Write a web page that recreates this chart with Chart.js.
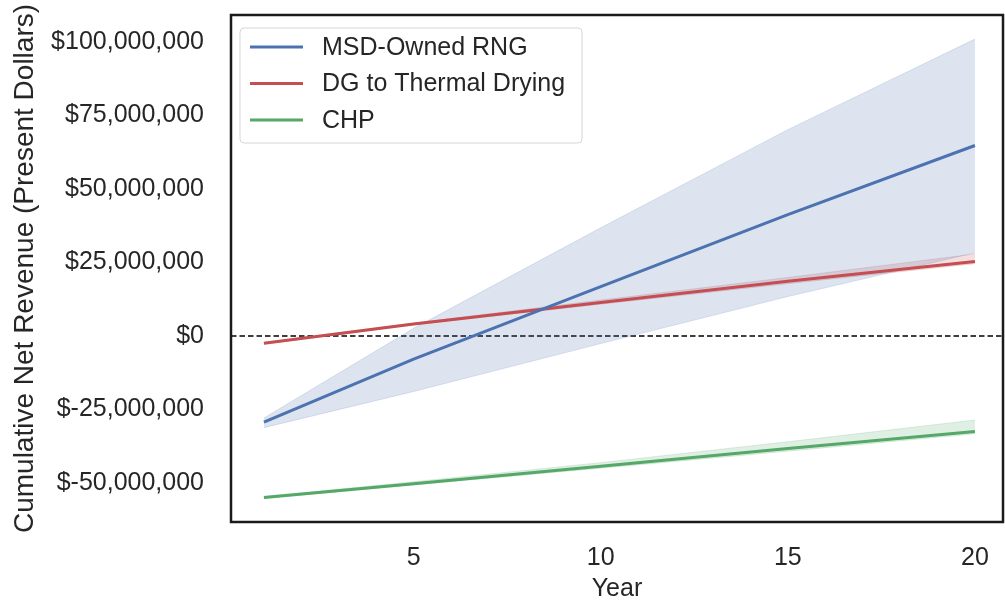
<!DOCTYPE html>
<html>
<head>
<meta charset="utf-8">
<script src="https://cdn.jsdelivr.net/npm/chart.js@4.4.1/dist/chart.umd.min.js"></script>
<style>
    html, body { margin: 0; padding: 0; background: #ffffff; }
    #wrap { width: 1005px; height: 601px; }
</style>
</head>
<body>
<div id="wrap"><canvas id="revenueChart" width="1005" height="601"></canvas></div>
<script>
// Chart values (dollars, present value)
const years = [1, 5, 10, 15, 20];

const rngLine = [-29.3e6, -7.9e6, 16.8e6, 41.3e6, 64.8e6];
const rngLow  = [-31.2e6, -18.9e6, -2.6e6, 13.4e6, 28.3e6];
const rngHigh = [-27.9e6, 2.6e6, 36.8e6, 70.2e6, 101.0e6];

const dgLine = [-2.5e6, 4.1e6, 11.4e6, 18.6e6, 25.3e6];
const dgLow  = [-2.8e6, 3.8e6, 10.8e6, 17.8e6, 24.6e6];
const dgHigh = [-2.2e6, 4.4e6, 12.2e6, 19.9e6, 27.9e6];

const chpLine = [-55.0e6, -50.3e6, -44.3e6, -38.3e6, -32.5e6];
const chpLow  = [-55.3e6, -50.7e6, -45.0e6, -39.2e6, -33.3e6];
const chpHigh = [-54.6e6, -49.6e6, -43.1e6, -36.0e6, -28.6e6];

const seriesNames = ['MSD-Owned RNG', 'DG to Thermal Drying', 'CHP'];
const seriesColors = ['#4C72B0', '#C44E52', '#55A868'];

const xTicks = [5, 10, 15, 20];
const yTicks = [-50e6, -25e6, 0, 25e6, 50e6, 75e6, 100e6];

const FONT = "'Liberation Sans', Arial, sans-serif";
const TEXT = '#262626';

// Turn parallel arrays into {x, y} points
function toPoints(values) {
    return years.map((yr, i) => ({ x: yr, y: values[i] }));
}

// Hex colour to rgba string
function rgba(hex, a) {
    const n = parseInt(hex.slice(1), 16);
    return `rgba(${(n >> 16) & 255}, ${(n >> 8) & 255}, ${n & 255}, ${a})`;
}

function lineSet(label, values, color) {
    return {
        label: label,
        data: toPoints(values),
        borderColor: color,
        borderWidth: 3,
        pointRadius: 0,
        fill: false,
        tension: 0,
        order: 0
    };
}

// Two datasets: the lower edge, then the upper edge filled down to it
function bandSets(low, high, color) {
    const edge = {
        data: toPoints(low),
        borderColor: rgba(color, 0.18),
        borderWidth: 1,
        pointRadius: 0,
        fill: false,
        tension: 0,
        order: 1
    };
    const top = Object.assign({}, edge, {
        data: toPoints(high),
        fill: '-1',
        backgroundColor: rgba(color, 0.19)
    });
    return [edge, top];
}

// Frame, dashed zero line and the boxed legend
const decorPlugin = {
    id: 'decor',
    beforeDatasetsDraw(chart) {
        const { ctx, chartArea: a, scales } = chart;
        const y0 = scales.y.getPixelForValue(0);
        ctx.save();
        ctx.strokeStyle = '#000000';
        ctx.lineWidth = 1.4;
        ctx.setLineDash([5.5, 3]);
        ctx.beginPath();
        ctx.moveTo(a.left, y0);
        ctx.lineTo(a.right, y0);
        ctx.stroke();
        ctx.restore();
    },
    afterDraw(chart) {
        const { ctx, chartArea: a } = chart;
        ctx.save();

        // legend box
        const bx = 240, by = 28, bw = 342, bh = 115, r = 4;
        ctx.beginPath();
        ctx.moveTo(bx + r, by);
        ctx.arcTo(bx + bw, by, bx + bw, by + bh, r);
        ctx.arcTo(bx + bw, by + bh, bx, by + bh, r);
        ctx.arcTo(bx, by + bh, bx, by, r);
        ctx.arcTo(bx, by, bx + bw, by, r);
        ctx.closePath();
        ctx.fillStyle = 'rgba(255,255,255,0.8)';
        ctx.fill();
        ctx.strokeStyle = '#d6d6d6';
        ctx.lineWidth = 1;
        ctx.stroke();

        ctx.font = `25px ${FONT}`;
        ctx.textBaseline = 'middle';
        ctx.fillStyle = TEXT;
        seriesNames.forEach((name, i) => {
            const ry = 47 + i * 36.5;
            ctx.strokeStyle = seriesColors[i];
            ctx.lineWidth = 3;
            ctx.beginPath();
            ctx.moveTo(250, ry);
            ctx.lineTo(303, ry);
            ctx.stroke();
            ctx.fillText(name, 322, ry + 1);
        });

        // plot frame
        ctx.strokeStyle = '#1a1a1a';
        ctx.lineWidth = 2.5;
        ctx.strokeRect(a.left, a.top, a.right - a.left, a.bottom - a.top);
        ctx.restore();
    }
};

document.addEventListener('DOMContentLoaded', function() {
    const ctx = document.getElementById('revenueChart').getContext('2d');

    const datasets = [
        lineSet(seriesNames[0], rngLine, seriesColors[0]),
        lineSet(seriesNames[1], dgLine, seriesColors[1]),
        lineSet(seriesNames[2], chpLine, seriesColors[2]),
        ...bandSets(rngLow, rngHigh, seriesColors[0]),
        ...bandSets(dgLow, dgHigh, seriesColors[1]),
        ...bandSets(chpLow, chpHigh, seriesColors[2])
    ];

    new Chart(ctx, {
        type: 'line',
        data: { datasets: datasets },
        options: {
            responsive: false,
            animation: false,
            layout: { padding: { top: 15, right: 2, left: 0, bottom: 0 } },
            scales: {
                x: {
                    type: 'linear',
                    min: 0.12,
                    max: 20.75,
                    grid: { display: false, drawTicks: false },
                    border: { display: false },
                    afterBuildTicks: scale => { scale.ticks = xTicks.map(v => ({ value: v })); },
                    afterFit: scale => {
                        scale.height = 79;
                        scale.paddingLeft = 0;
                        scale.paddingRight = 0;
                    },
                    ticks: {
                        padding: 21,
                        color: TEXT,
                        font: { family: FONT, size: 25 }
                    },
                    title: {
                        display: true,
                        text: 'Year',
                        color: TEXT,
                        font: { family: FONT, size: 25 },
                        padding: { top: 0, bottom: -3 }
                    }
                },
                y: {
                    type: 'linear',
                    min: -63.3e6,
                    max: 109.2e6,
                    grid: { display: false, drawTicks: false },
                    border: { display: false },
                    afterBuildTicks: scale => { scale.ticks = yTicks.map(v => ({ value: v })); },
                    afterFit: scale => {
                        scale.width = 231;
                        scale.paddingTop = 0;
                        scale.paddingBottom = 0;
                    },
                    ticks: {
                        padding: 27,
                        color: TEXT,
                        font: { family: FONT, size: 25 },
                        callback: v => '$' + Math.round(v).toLocaleString('en-US')
                    },
                    title: {
                        display: true,
                        text: 'Cumulative Net Revenue (Present Dollars)',
                        color: TEXT,
                        font: { family: FONT, size: 28 },
                        padding: { top: 8, bottom: 0 }
                    }
                }
            },
            plugins: {
                legend: { display: false },
                tooltip: { enabled: false }
            }
        },
        plugins: [decorPlugin]
    });
});
</script>
</body>
</html>
